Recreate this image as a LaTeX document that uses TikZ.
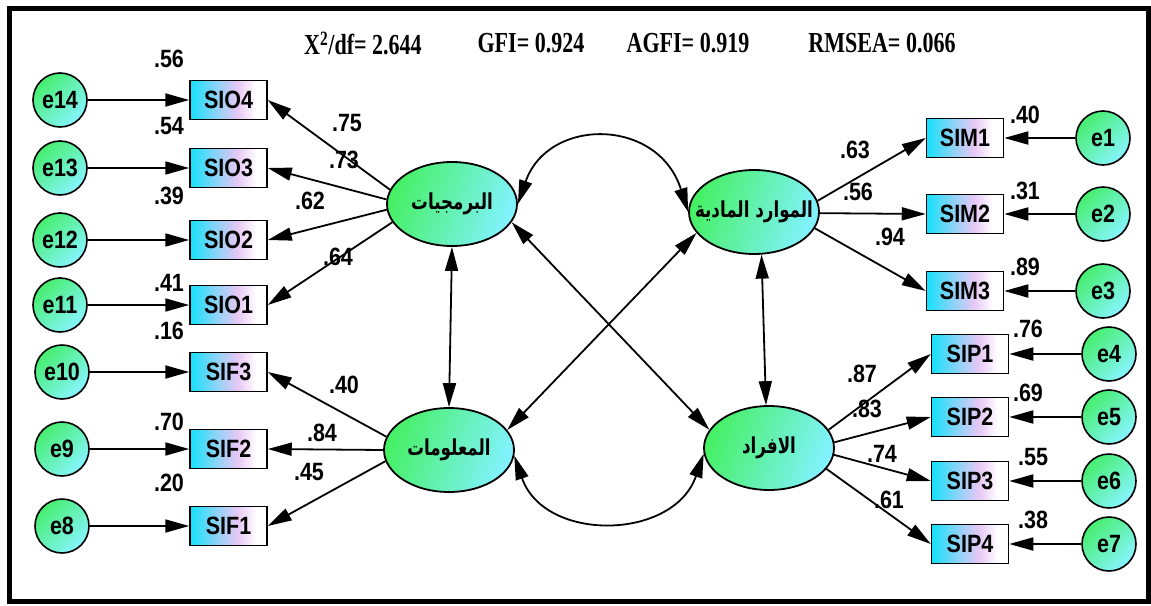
\documentclass[tikz,border=0pt]{standalone}
\usepackage{fontspec}
\usetikzlibrary{arrows.meta,shapes.geometric}
\TeXXeTstate=1
\newfontface\lblfont{Liberation Sans Bold}[FakeStretch=0.86]
\newfontface\hdrfont{Liberation Serif Bold}[FakeStretch=0.76]
\newfontface\arfont{DejaVu Sans Bold}[Script=Arabic,FakeStretch=0.76]

\definecolor{errgreen}{RGB}{70,238,110}
\definecolor{errcyan}{RGB}{135,245,255}
\definecolor{latgreen}{RGB}{70,240,100}
\definecolor{latcyan}{RGB}{130,242,255}
\definecolor{boxcyan}{RGB}{20,225,250}
\definecolor{boxlav}{RGB}{232,200,245}
\colorlet{boxmid}{boxlav!50!boxcyan}
\pgfdeclarehorizontalshading{obsshade}{100bp}{color(0bp)=(boxcyan); color(25bp)=(boxcyan); color(40bp)=(boxmid); color(56bp)=(boxlav); color(68bp)=(white); color(100bp)=(white)}

% the ellipse size is fixed, the label does not widen it
\newcommand{\latlabel}[1]{\makebox[0pt]{\beginR #1\endR}}

\tikzset{
  obs/.style={draw=black, line width=1.5pt, minimum width=77pt, minimum height=39pt,
    inner sep=0pt, shade, shading=obsshade, font={\fontsize{25}{25}\lblfont}},
  err/.style={circle, draw=black, line width=1.6pt, minimum size=54pt, inner sep=0pt,
    top color=errgreen, bottom color=errcyan, shading angle=45,
    font={\fontsize{25}{25}\lblfont}},
  lat/.style={ellipse, draw=black, line width=1.8pt, minimum width=130pt, minimum height=84pt,
    inner sep=0pt, top color=latgreen, bottom color=latcyan, shading angle=70,
    font={\fontsize{22}{22}\arfont}},
  num/.style={inner sep=0pt, font={\fontsize{25}{25}\lblfont}},
  hdr/.style={inner sep=0pt, font={\fontsize{29}{29}\hdrfont}},
  loadarrow/.style={line width=1.8pt, -{Triangle[length=24pt,width=13pt]}},
  covarrow/.style={line width=1.8pt, {Triangle[length=24pt,width=13pt]}-{Triangle[length=24pt,width=13pt]}}
}

\begin{document}
\begin{tikzpicture}[x=1pt,y=-1pt]
\useasboundingbox (0,0) rectangle (1151,605);
\fill[white] (0,0) rectangle (1151,605);
\draw[line width=5pt] (9.5,8.5) rectangle (1148.5,601.5);

% fit indices
\node[hdr] (chi)   at (363,43) {X\textsuperscript{2}/df= 2.644};
\node[hdr] (gfi)   at (531,43) {GFI= 0.924};
\node[hdr] (agfi)  at (688,43) {AGFI= 0.919};
\node[hdr] (rmsea) at (882,43) {RMSEA= 0.066};

% latent factors
\node[lat] (prog) at (452,204) {\latlabel{البرمجيات}};
\node[lat] (mat)  at (754,212) {\latlabel{الموارد المادية}};
\node[lat] (info) at (449,450) {\latlabel{المعلومات}};
\node[lat] (pers) at (769,448) {\latlabel{الافراد}};

% left indicators
\node[obs] (sio4) at (228.5,100) {SIO4};
\node[obs] (sio3) at (228.5,168) {SIO3};
\node[obs] (sio2) at (228.5,240) {SIO2};
\node[obs] (sio1) at (228.5,305) {SIO1};
\node[obs] (sif3) at (228.5,372) {SIF3};
\node[obs] (sif2) at (228.5,449) {SIF2};
\node[obs] (sif1) at (228.5,526) {SIF1};

% left error terms
\node[err] (e14) at (60,100) {e14};
\node[err] (e13) at (60,168) {e13};
\node[err] (e12) at (60,240) {e12};
\node[err] (e11) at (60,305) {e11};
\node[err] (e10) at (62,372) {e10};
\node[err] (e9)  at (62,449) {e9};
\node[err] (e8)  at (62,526) {e8};

% right indicators
\node[obs] (sim1) at (965,138) {SIM1};
\node[obs] (sim2) at (965,214) {SIM2};
\node[obs] (sim3) at (965,291) {SIM3};
\node[obs] (sip1) at (970,354) {SIP1};
\node[obs] (sip2) at (970,417) {SIP2};
\node[obs] (sip3) at (970,481) {SIP3};
\node[obs] (sip4) at (970,544) {SIP4};

% right error terms
\node[err] (e1) at (1103,138) {e1};
\node[err] (e2) at (1103,214) {e2};
\node[err] (e3) at (1103,291) {e3};
\node[err] (e4) at (1109,354) {e4};
\node[err] (e5) at (1109,417) {e5};
\node[err] (e6) at (1109,481) {e6};
\node[err] (e7) at (1109,544) {e7};

% error paths
\foreach \e/\o in {e14/sio4,e13/sio3,e12/sio2,e11/sio1,e10/sif3,e9/sif2,e8/sif1,
                   e1/sim1,e2/sim2,e3/sim3,e4/sip1,e5/sip2,e6/sip3,e7/sip4}
  \draw[loadarrow] (\e) -- (\o);

% loadings
\draw[loadarrow] (prog.167) -- (sio4.east);
\draw[loadarrow] (prog.176) -- (sio3.east);
\draw[loadarrow] (prog.185) -- (sio2.east);
\draw[loadarrow] (prog.197) -- (sio1.east);
\draw[loadarrow] (info.168) -- (sif3.east);
\draw[loadarrow] (info.180) -- (sif2.east);
\draw[loadarrow] (info.190) -- (sif1.east);
\draw[loadarrow] (mat.10)  -- (sim1.west);
\draw[loadarrow] (mat.-1)  -- (sim2.west);
\draw[loadarrow] (mat.-15) -- (sim3.west);
\draw[loadarrow] (pers.17) -- (sip1.west);
\draw[loadarrow] (pers.5)  -- (sip2.west);
\draw[loadarrow] (pers.-6) -- (sip3.west);
\draw[loadarrow] (pers.-20) -- (sip4.west);

% covariances
\draw[covarrow] (prog.east) .. controls +(30,-87) and +(-30,-95) .. (mat.west);
\draw[covarrow] (info.-5) .. controls +(30,87) and +(-30,87) .. (pers.185);
\draw[covarrow] (prog.south) -- (info.north);
\draw[covarrow] (mat.-80) -- (pers.94);
\draw[covarrow] (prog.-17) -- (pers.163);
\draw[covarrow] (info.19) -- (mat.200);

% variances, left
\node[num] (v14) at (169,59)  {.56};
\node[num] (v13) at (169,126) {.54};
\node[num] (v12) at (169,196) {.39};
\node[num] (v11) at (169,283) {.41};
\node[num] (v10) at (169,331) {.16};
\node[num] (v9)  at (169,422) {.70};
\node[num] (v8)  at (169,483) {.20};

% loadings, left
\node[num] (w4) at (347,123) {.75};
\node[num] (w3) at (344,160) {.73};
\node[num] (w2) at (310,201) {.62};
\node[num] (w1) at (338,257) {.64};
\node[num] (f3) at (344,385) {.40};
\node[num] (f2) at (322,433) {.84};
\node[num] (f1) at (309,472) {.45};

% loadings, right
\node[num] (m1) at (855,150) {.63};
\node[num] (m2) at (858,192) {.56};
\node[num] (m3) at (890,237) {.94};
\node[num] (p1) at (862,374) {.87};
\node[num] (p2) at (867,409) {.83};
\node[num] (p3) at (882,454) {.74};
\node[num] (p4) at (889,500) {.61};

% variances, right
\node[num] (v1) at (1025,115) {.40};
\node[num] (v2) at (1025,191) {.31};
\node[num] (v3) at (1025,267) {.89};
\node[num] (v4) at (1028,329) {.76};
\node[num] (v5) at (1028,393) {.69};
\node[num] (v6) at (1033,457) {.55};
\node[num] (v7) at (1033,520) {.38};
\end{tikzpicture}
\end{document}
